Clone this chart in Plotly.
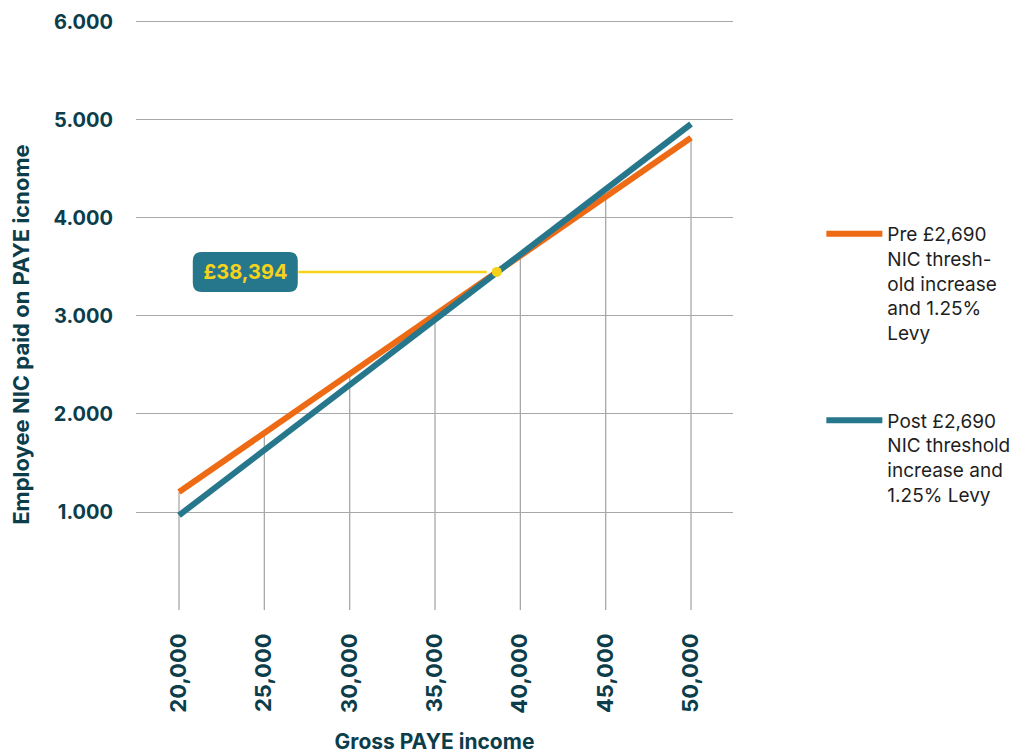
import plotly.graph_objects as go

# ---- data ----
income = [20000, 25000, 30000, 35000, 40000, 45000, 50000]
income_labels = ["20,000", "25,000", "30,000", "35,000", "40,000", "45,000", "50,000"]
pre_nic = [1204, 1807, 2409, 3012, 3614, 4217, 4819]
post_nic = [966, 1632, 2297, 2963, 3628, 4294, 4959]
y_ticks = [1000, 2000, 3000, 4000, 5000, 6000]
y_tick_labels = ["1.000", "2.000", "3.000", "4.000", "5.000", "6.000"]
crossover_income = 38620
crossover_nic = 3450
crossover_label = "£38,394"
pre_name = "Pre £2,690<br>NIC thresh-<br>old increase<br>and 1.25%<br>Levy"
post_name = "Post £2,690<br>NIC threshold<br>increase and<br>1.25% Levy"

ORANGE = "#EE6A14"
TEAL = "#27778C"
YELLOW = "#F6D31A"
DARK = "#0B3D4A"
GRID = "#A8A8A8"
FONT = "Inter"

fig = go.Figure()

# drop lines from the pre series down to zero
drop_x, drop_y = [], []
for xv, yv in zip(income, pre_nic):
    drop_x += [xv, xv, None]
    drop_y += [0, yv, None]
fig.add_trace(go.Scatter(x=drop_x, y=drop_y, mode="lines",
                         line=dict(color=GRID, width=1.3),
                         hoverinfo="skip", showlegend=False))

fig.add_trace(go.Scatter(x=income, y=pre_nic, mode="lines", name=pre_name,
                         legendgroup="pre",
                         line=dict(color=ORANGE, width=6)))
fig.add_trace(go.Scatter(x=income, y=post_nic, mode="lines", name=post_name,
                         legendgroup="post",
                         line=dict(color=TEAL, width=6)))
fig.add_trace(go.Scatter(x=[crossover_income], y=[crossover_nic], mode="markers",
                         marker=dict(color=YELLOW, size=10),
                         hoverinfo="skip", showlegend=False))

# rounded label box (pixel-sized, anchored to the crossover point)
bx0, bx1, by0, by1, r = -304, -199, -20, 20, 9
path = (f"M{bx0 + r},{by0} L{bx1 - r},{by0} Q{bx1},{by0} {bx1},{by0 + r} "
        f"L{bx1},{by1 - r} Q{bx1},{by1} {bx1 - r},{by1} "
        f"L{bx0 + r},{by1} Q{bx0},{by1} {bx0},{by1 - r} "
        f"L{bx0},{by0 + r} Q{bx0},{by0} {bx0 + r},{by0} Z")
fig.add_shape(type="path", path=path, xref="x", yref="y",
              xsizemode="pixel", ysizemode="pixel",
              xanchor=crossover_income, yanchor=crossover_nic,
              fillcolor=TEAL, line=dict(width=0), layer="above")

fig.add_annotation(x=crossover_income, y=crossover_nic, xref="x", yref="y",
                   text=f"<b>{crossover_label}</b>",
                   font=dict(family=FONT, size=20, color=YELLOW),
                   showarrow=True, ax=-251.5, ay=0, arrowhead=0,
                   arrowcolor=YELLOW, arrowwidth=2.5, standoff=10,
                   width=90, height=25, borderpad=7.5,
                   bgcolor="rgba(0,0,0,0)")

fig.add_annotation(text="<b>Employee NIC paid on PAYE icnome</b>",
                   xref="paper", yref="paper", x=-0.193, y=0.463,
                   xanchor="center", yanchor="middle", textangle=-90,
                   showarrow=False, font=dict(family=FONT, size=22, color=DARK))

fig.update_layout(
    width=1033, height=754,
    margin=dict(l=136, r=300, t=16, b=144),
    plot_bgcolor="white", paper_bgcolor="white",
    font=dict(family=FONT, color=DARK),
    legend=dict(x=1.148, y=0.665, xanchor="left", yanchor="top",
                font=dict(family=FONT, size=19, color="#1E1E1E"),
                tracegroupgap=60, valign="top", itemwidth=56,
                traceorder="grouped"),
    xaxis=dict(range=[17480, 52460], tickvals=income, ticktext=income_labels,
               tickangle=-90, showgrid=False, zeroline=False, showline=False,
               ticks="", ticklabelstandoff=18, automargin=False,
               tickfont=dict(family=FONT, size=22, color=DARK, weight="bold"),
               title=dict(text="<b>Gross PAYE income</b>", standoff=33,
                          font=dict(family=FONT, size=21, color=DARK))),
    yaxis=dict(range=[0, 6061], tickvals=y_ticks, ticktext=y_tick_labels,
               showgrid=True, gridcolor=GRID, gridwidth=1.3, zeroline=False,
               showline=False, ticks="", ticklabelstandoff=22, automargin=False,
               tickfont=dict(family=FONT, size=20, color=DARK, weight="bold")),
)

fig.write_html("out.html")
